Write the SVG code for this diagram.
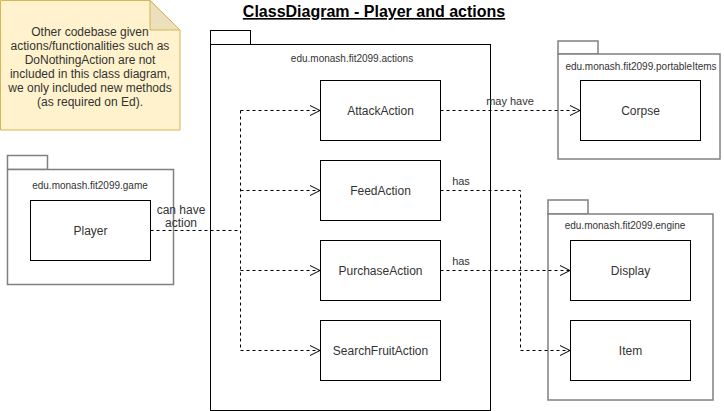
<svg xmlns="http://www.w3.org/2000/svg" width="724" height="411" viewBox="0 0 724 411">
<style>
text{font-family:"Liberation Sans",Arial,sans-serif;}
.cls{fill:#fff;stroke:#000;stroke-width:1;}
.lbl{font-size:12px;fill:#333;text-anchor:middle;}
.pk{fill:#fff;stroke:#808080;stroke-width:1.5;}
.pkb{fill:#fff;stroke:#000;stroke-width:1;}
.pl{font-size:10px;fill:#333;text-anchor:middle;}
.edge{fill:none;stroke:#000;stroke-width:1;stroke-dasharray:3 3;}
.el{font-size:11px;fill:#333;text-anchor:middle;}
</style>
<defs>
<marker id="open" viewBox="-11 -6 12 12" refX="0" refY="0" markerWidth="12" markerHeight="12" markerUnits="userSpaceOnUse" orient="auto">
<path d="M-10,-5 L0,0 L-10,5" fill="none" stroke="#000" stroke-width="1"/>
</marker>
</defs>
<rect width="724" height="411" fill="#fff"/>
<g id="note">
<path d="M0.5,0.5 L150,0.5 L180,30 L180,130 L0.5,130 Z" fill="#fff2cc" stroke="#d6b656" stroke-width="1"/>
<path d="M150,0.5 L150,30 L180,30 Z" fill="#ece0bc" stroke="#d6b656" stroke-width="1"/>
<text class="lbl" x="90" y="35.5">Other codebase given</text>
<text class="lbl" x="90" y="49.5">actions/functionalities such as</text>
<text class="lbl" x="90" y="63.5">DoNothingAction are not</text>
<text class="lbl" x="90" y="77.5">included in this class diagram,</text>
<text class="lbl" x="90" y="91.5">we only included new methods</text>
<text class="lbl" x="90" y="105.5">(as required on Ed).</text>
</g>
<g id="title">
<text x="374" y="17" font-size="16" font-weight="bold" fill="#000" text-anchor="middle" text-decoration="underline">ClassDiagram - Player and actions</text>
</g>
<g id="pkg-actions">
<rect class="pkb" x="210.5" y="30.5" width="40" height="14"/>
<rect class="pkb" x="210.5" y="44.5" width="280" height="366"/>
<text class="pl" x="352" y="61.5">edu.monash.fit2099.actions</text>
</g>
<g id="pkg-portable">
<rect class="pk" x="558" y="41" width="40" height="13"/>
<rect class="pk" x="558" y="54" width="162" height="105"/>
<text class="pl" x="641" y="70">edu.monash.fit2099.portableItems</text>
</g>
<g id="pkg-game">
<rect class="pk" x="7.5" y="155.5" width="40" height="14"/>
<rect class="pk" x="7.5" y="169.5" width="166" height="115"/>
<text class="pl" x="90" y="188.5">edu.monash.fit2099.game</text>
</g>
<g id="pkg-engine">
<rect class="pk" x="548" y="200" width="40" height="14"/>
<rect class="pk" x="548" y="214" width="165" height="186"/>
<text class="pl" x="625" y="228.5">edu.monash.fit2099.engine</text>
</g>
<g id="Player"><rect class="cls" x="30.5" y="200.5" width="120" height="60"/><text class="lbl" x="90.5" y="234.5">Player</text></g>
<g id="AttackAction"><rect class="cls" x="320.5" y="80.5" width="120" height="60"/><text class="lbl" x="380.5" y="114.5">AttackAction</text></g>
<g id="FeedAction"><rect class="cls" x="320.5" y="160.5" width="120" height="60"/><text class="lbl" x="380.5" y="194.5">FeedAction</text></g>
<g id="PurchaseAction"><rect class="cls" x="320.5" y="240.5" width="120" height="60"/><text class="lbl" x="380.5" y="274.5">PurchaseAction</text></g>
<g id="SearchFruitAction"><rect class="cls" x="320.5" y="320.5" width="120" height="60"/><text class="lbl" x="380.5" y="354.5">SearchFruitAction</text></g>
<g id="Corpse"><rect class="cls" x="580.5" y="80.5" width="120" height="60"/><text class="lbl" x="640.5" y="114.5">Corpse</text></g>
<g id="Display"><rect class="cls" x="570.5" y="240.5" width="120" height="60"/><text class="lbl" x="630.5" y="274.5">Display</text></g>
<g id="Item"><rect class="cls" x="570.5" y="320.5" width="120" height="60"/><text class="lbl" x="630.5" y="354.5">Item</text></g>
<g id="connectors">
<path class="edge" d="M150.5,230.5 L240.5,230.5"/>
<path class="edge" d="M240.5,110.5 L240.5,350.5"/>
<path class="edge" d="M240.5,110.5 L320,110.5" marker-end="url(#open)"/>
<path class="edge" d="M240.5,190.5 L320,190.5" marker-end="url(#open)"/>
<path class="edge" d="M240.5,270.5 L320,270.5" marker-end="url(#open)"/>
<path class="edge" d="M240.5,350.5 L320,350.5" marker-end="url(#open)"/>
<path class="edge" d="M440.5,110.5 L580,110.5" marker-end="url(#open)"/>
<path class="edge" d="M440.5,190.5 L520.5,190.5 L520.5,350.5 L570,350.5" marker-end="url(#open)"/>
<path class="edge" d="M440.5,270.5 L570,270.5" marker-end="url(#open)"/>
<text class="lbl" x="181" y="213.5">can have</text>
<text class="lbl" x="181" y="226.5">action</text>
<text class="el" x="510" y="105">may have</text>
<text class="el" x="461" y="185">has</text>
<text class="el" x="461" y="265">has</text>
</g>
</svg>
